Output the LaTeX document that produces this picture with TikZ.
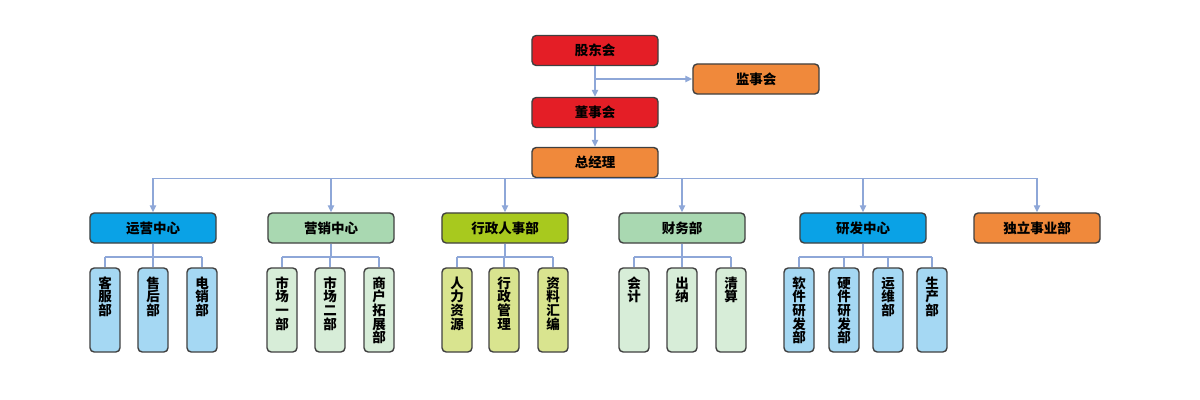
\documentclass[tikz,border=0pt]{standalone}
\usepackage{fontspec}
\newfontfamily\cjk{Noto Sans CJK SC}
\usetikzlibrary{arrows.meta}
\definecolor{boxred}{HTML}{E41E26}
\definecolor{boxorange}{HTML}{F0893B}
\definecolor{boxblue}{HTML}{0AA2E6}
\definecolor{boxgreen}{HTML}{A9D8B1}
\definecolor{boxlime}{HTML}{A8C91E}
\definecolor{subblue}{HTML}{A5D8F3}
\definecolor{subgreen}{HTML}{D7EDD8}
\definecolor{sublime}{HTML}{D9E48F}
\definecolor{linkblue}{HTML}{8EA7D8}
\newcommand{\vlabel}[1]{\vtop{\baselineskip=9.7pt\lineskiplimit=-\maxdimen\halign{\hfil##\hfil\cr#1\cr}}}
\tikzset{
	box/.style={draw=black!75, line width=1pt, rounded corners=3pt, minimum width=3.15cm, minimum height=0.75cm, inner sep=0pt, font={\cjk\bfseries\fontsize{9.6}{11}\selectfont}},
	sub/.style={box, minimum width=0.75cm, minimum height=2.1cm, text height=9pt, text depth=40pt, inner ysep=5pt},
	link/.style={draw=linkblue, line width=1pt},
	arr/.style={link, -{Triangle[length=5pt,width=4.5pt]}}
}

\begin{document}
\begin{tikzpicture}[x=0.025cm,y=-0.025cm]
		\useasboundingbox (0,0) rectangle (1200,400);
		% top
		\node[box,fill=boxred] (gd) at (595,50.5) {股东会};
		\node[box,fill=boxorange] (js) at (756,79) {监事会};
		\node[box,fill=boxred] (ds) at (595,112.5) {董事会};
		\node[box,fill=boxorange] (zj) at (595,162.5) {总经理};
		\draw[arr] (gd) -- (ds);
		\draw[arr] (gd.south |- js.west) -- (js.west);
		\draw[arr] (ds) -- (zj);
		% centres and departments
		\node[box,fill=boxblue] (yy) at (153,228) {运营中心};
		\node[box,fill=boxgreen] (yx) at (331,228) {营销中心};
		\node[box,fill=boxlime] (xz) at (505,228) {行政人事部};
		\node[box,fill=boxgreen] (cw) at (682,228) {财务部};
		\node[box,fill=boxblue] (yf) at (863,228) {研发中心};
		\node[box,fill=boxorange] (dl) at (1037,228) {独立事业部};
		\draw[link] (yy.north |- zj.south) -- (dl.north |- zj.south);
		\foreach \d in {yy,yx,xz,cw,yf,dl}
			\draw[arr] (\d.north |- zj.south) -- (\d.north);
		% offices
		\node[sub,fill=subblue] (kf) at (105,310) {\vlabel{客\cr 服\cr 部}};
		\node[sub,fill=subblue] (shou) at (153,310) {\vlabel{售\cr 后\cr 部}};
		\node[sub,fill=subblue] (dx) at (202,310) {\vlabel{电\cr 销\cr 部}};
		\node[sub,fill=subgreen] (sy) at (282,310) {\vlabel{市\cr 场\cr 一\cr 部}};
		\node[sub,fill=subgreen] (se) at (330,310) {\vlabel{市\cr 场\cr 二\cr 部}};
		\node[sub,fill=subgreen] (tz) at (379,310) {\vlabel{商\cr 户\cr 拓\cr 展\cr 部}};
		\node[sub,fill=sublime] (rl) at (457,310) {\vlabel{人\cr 力\cr 资\cr 源}};
		\node[sub,fill=sublime] (xg) at (504,310) {\vlabel{行\cr 政\cr 管\cr 理}};
		\node[sub,fill=sublime] (zl) at (553,310) {\vlabel{资\cr 料\cr 汇\cr 编}};
		\node[sub,fill=subgreen] (kj) at (634,310) {\vlabel{会\cr 计}};
		\node[sub,fill=subgreen] (cn) at (682,310) {\vlabel{出\cr 纳}};
		\node[sub,fill=subgreen] (qs) at (731,310) {\vlabel{清\cr 算}};
		\node[sub,fill=subblue] (rj) at (799,310) {\vlabel{软\cr 件\cr 研\cr 发\cr 部}};
		\node[sub,fill=subblue] (yj) at (844,310) {\vlabel{硬\cr 件\cr 研\cr 发\cr 部}};
		\node[sub,fill=subblue] (yw) at (888,310) {\vlabel{运\cr 维\cr 部}};
		\node[sub,fill=subblue] (sc) at (932,310) {\vlabel{生\cr 产\cr 部}};
		% links to offices
		\coordinate (fork) at (0,257);
		\draw[link] (yy) -- (yy |- fork);
		\draw[link] (kf.north |- fork) -- (dx.north |- fork);
		\foreach \o in {kf,shou,dx} \draw[link] (\o.north |- fork) -- (\o.north);
		\draw[link] (yx) -- (yx |- fork);
		\draw[link] (sy.north |- fork) -- (tz.north |- fork);
		\foreach \o in {sy,se,tz} \draw[link] (\o.north |- fork) -- (\o.north);
		\draw[link] (xz) -- (xz |- fork);
		\draw[link] (rl.north |- fork) -- (zl.north |- fork);
		\foreach \o in {rl,xg,zl} \draw[link] (\o.north |- fork) -- (\o.north);
		\draw[link] (cw) -- (cw |- fork);
		\draw[link] (kj.north |- fork) -- (qs.north |- fork);
		\foreach \o in {kj,cn,qs} \draw[link] (\o.north |- fork) -- (\o.north);
		\draw[link] (yf) -- (yf |- fork);
		\draw[link] (rj.north |- fork) -- (sc.north |- fork);
		\foreach \o in {rj,yj,yw,sc} \draw[link] (\o.north |- fork) -- (\o.north);
	\end{tikzpicture}
\end{document}
